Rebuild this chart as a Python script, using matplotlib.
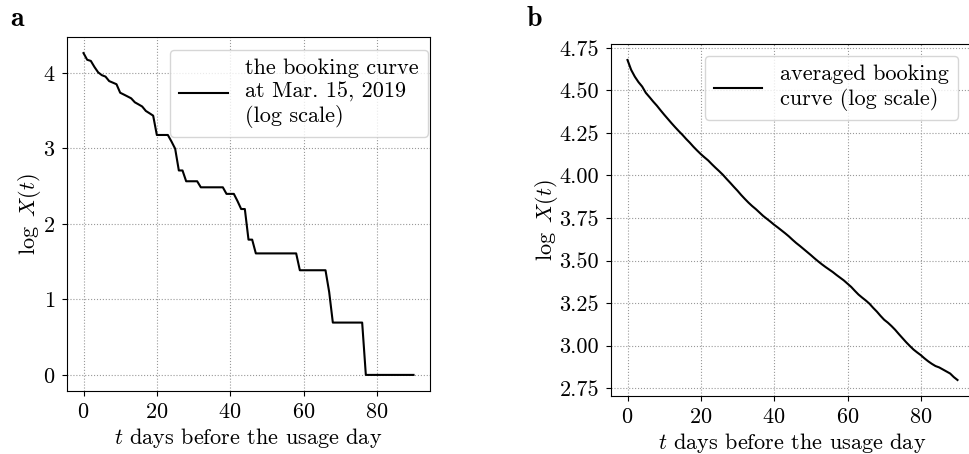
import numpy as np
import matplotlib
matplotlib.use("Agg")
import matplotlib.pyplot as plt

plt.rcParams["font.family"] = "serif"
plt.rcParams["font.serif"] = ["cmr10"]
plt.rcParams["mathtext.fontset"] = "cm"
plt.rcParams["axes.formatter.use_mathtext"] = True

# Days before the usage day
days = np.arange(0, 91)

# Number of bookings X(t) on Mar. 15, 2019, for t = 0..90
bookings_mar15 = [
    71, 65, 64, 59, 55, 53, 52, 49, 48, 47,
    42, 41, 40, 39, 37, 36, 35, 33, 32, 31,
    24, 24, 24, 24, 22, 20, 15, 15, 13, 13,
    13, 13, 12, 12, 12, 12, 12, 12, 12, 11,
    11, 11, 10, 9, 9, 6, 6, 5, 5, 5,
    5, 5, 5, 5, 5, 5, 5, 5, 5, 4,
    4, 4, 4, 4, 4, 4, 4, 3, 2, 2,
    2, 2, 2, 2, 2, 2, 2, 1, 1, 1,
    1, 1, 1, 1, 1, 1, 1, 1, 1, 1,
    1,
]

# Averaged booking curve, log X(t), for t = 0..90
avg_log_curve = [
    4.678, 4.620, 4.580, 4.548, 4.522, 4.485, 4.460, 4.434, 4.410, 4.383,
    4.357, 4.332, 4.307, 4.283, 4.260, 4.238, 4.214, 4.192, 4.168, 4.146,
    4.125, 4.106, 4.088, 4.066, 4.045, 4.025, 4.004, 3.980, 3.957, 3.933,
    3.910, 3.885, 3.862, 3.840, 3.820, 3.802, 3.782, 3.762, 3.745, 3.728,
    3.710, 3.694, 3.677, 3.660, 3.642, 3.622, 3.603, 3.586, 3.568, 3.550,
    3.532, 3.513, 3.495, 3.478, 3.462, 3.447, 3.432, 3.415, 3.399, 3.383,
    3.364, 3.345, 3.322, 3.300, 3.282, 3.265, 3.246, 3.222, 3.200, 3.175,
    3.152, 3.135, 3.115, 3.093, 3.068, 3.044, 3.020, 2.998, 2.977, 2.960,
    2.944, 2.925, 2.908, 2.893, 2.880, 2.872, 2.860, 2.848, 2.836, 2.815,
    2.798,
]

W, H = 969, 454
fig = plt.figure(figsize=(W / 100, H / 100), dpi=100)


def px_axes(left, top, right, bottom):
    return fig.add_axes([left / W, 1 - bottom / H, (right - left) / W, (bottom - top) / H])


fs = 16
xlabel = r"$t$ days before the usage day"
ylabel = r"$\log\ X(t)$"

# Panel a: single-day booking curve
ax1 = px_axes(67, 37, 430, 391)
ax1.plot(days, np.log(bookings_mar15), color="black", lw=1.5,
         label="the booking curve\nat Mar. 15, 2019\n(log scale)")
ax1.set_xticks([0, 20, 40, 60, 80])
ax1.set_yticks([0, 1, 2, 3, 4])
ax1.grid(True, linestyle=":", color="#999999", lw=0.8)
ax1.set_xlabel(xlabel, fontsize=fs, labelpad=3)
ax1.set_ylabel(ylabel, fontsize=fs, labelpad=0)
ax1.tick_params(labelsize=fs, pad=5)
ax1.legend(loc="upper right", bbox_to_anchor=(428 / W, 1 - 50 / H),
           bbox_transform=fig.transFigure, borderaxespad=0, fontsize=fs,
           handlelength=2.2, labelspacing=0.1, framealpha=0.8)

# Panel b: averaged booking curve
ax2 = px_axes(611, 44, 974, 396)
ax2.plot(days, avg_log_curve, color="black", lw=1.5,
         label="averaged booking\ncurve (log scale)")
ax2.set_xticks([0, 20, 40, 60, 80])
ax2.set_yticks([2.75, 3.0, 3.25, 3.5, 3.75, 4.0, 4.25, 4.5, 4.75])
ax2.set_yticklabels(["2.75", "3.00", "3.25", "3.50", "3.75", "4.00", "4.25", "4.50", "4.75"])
ax2.grid(True, linestyle=":", color="#999999", lw=0.8)
ax2.set_xlabel(xlabel, fontsize=fs, labelpad=3)
ax2.set_ylabel(ylabel, fontsize=fs, labelpad=0)
ax2.tick_params(labelsize=fs, pad=5)
ax2.legend(loc="upper right", bbox_to_anchor=(958 / W, 1 - 56 / H),
           bbox_transform=fig.transFigure, borderaxespad=0, fontsize=fs,
           handlelength=2.2, labelspacing=0.1, framealpha=0.8)

fig.text(10 / W, 1 - 6 / H, "a", fontsize=20, fontfamily="cmb10", va="top", ha="left")
fig.text(527 / W, 1 - 6 / H, "b", fontsize=20, fontfamily="cmb10", va="top", ha="left")

fig.savefig("out.png", dpi=100)
